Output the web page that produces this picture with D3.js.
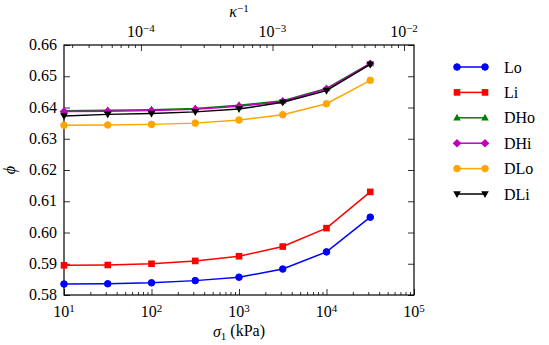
<!DOCTYPE html>
<html>
<head>
<meta charset="utf-8">
<script src="https://cdn.jsdelivr.net/npm/d3@7"></script>
</head>
<body style="margin:0">
<div id="chart"></div>
<script>
window.onerror = function(msg) {
  var p = document.createElement('pre'); p.style.color = 'red'; p.textContent = msg; document.body.appendChild(p)
}

// sigma_1 (kPa) sample points
var sigma = [10, 31.62, 100, 316.2, 1000, 3162, 10000, 31623]

var Lo  = [0.5835, 0.5836, 0.5839, 0.5846, 0.5857, 0.5883, 0.5938, 0.6049]
var Li  = [0.5895, 0.5896, 0.5900, 0.5909, 0.5924, 0.5955, 0.6014, 0.6130]
var DHo = [0.6390, 0.6391, 0.6393, 0.6397, 0.6407, 0.6422, 0.6461, 0.6541]
var DHi = [0.6387, 0.6388, 0.6390, 0.6394, 0.6404, 0.6419, 0.6459, 0.6540]
var DLo = [0.6343, 0.6344, 0.6346, 0.6350, 0.6360, 0.6377, 0.6412, 0.6487]
var DLi = [0.6373, 0.6378, 0.6381, 0.6386, 0.6395, 0.6417, 0.6454, 0.6538]

var names   = ['Lo', 'Li', 'DHo', 'DHi', 'DLo', 'DLi']
var colors  = ['#0000ff', '#ff0000', '#008000', '#bf00bf', '#ffa500', '#000000']
var symbols = ['circle', 'square', 'triUp', 'diamond', 'circle', 'triDown']

var xTicks = [1e1, 1e2, 1e3, 1e4, 1e5]
var xExp = ['1', '2', '3', '4', '5']
var kTicks = [1e-4, 1e-3, 1e-2]
var kExp = ['\u22124', '\u22123', '\u22122']
var kDomain = [Math.pow(10, -4.585), Math.pow(10, -1.924)]
var yTicks = [0.58, 0.59, 0.60, 0.61, 0.62, 0.63, 0.64, 0.65, 0.66]

var series = names.map((n, i) => ({name: n, color: colors[i], sym: symbols[i],
  values: [Lo, Li, DHo, DHi, DLo, DLi][i].map((v, j) => ({s: sigma[j], v: v}))}))

var W = 549, H = 345
var m = {left: 64, right: 135, top: 45, bottom: 50}
var fs = '16px'

var svg = d3.select('#chart').append('svg').attr('width', W).attr('height', H)

var x = d3.scaleLog().domain([10, 1e5]).range([m.left, W - m.right])
var xk = d3.scaleLog().domain(kDomain).range([m.left, W - m.right])
var y = d3.scaleLinear().domain([0.58, 0.66]).range([H - m.bottom, m.top])

function minorOf(dom) {
  var out = []
  for (var e = -6; e <= 6; e++) for (var k = 2; k <= 9; k++) {
    var v = k * Math.pow(10, e)
    if (v > dom[0] && v < dom[1]) out.push(v)
  }
  return out
}

// plain text maker: serif face set inline at creation
function txt(parent) {
  return parent.append('text').style('font-family', '"Liberation Serif"').style('font-size', fs).attr('fill', '#000')
}
function pow10(t, e) {
  t.append('tspan').text('10')
  t.append('tspan').attr('dy', '-0.45em').style('font-size', '11px').text(e)
}

// ticks only; labels drawn by txt()
function ticks(axis, tx, ty) {
  svg.append('g').attr('transform', `translate(${tx},${ty})`).call(axis)
}
ticks(d3.axisBottom(x).tickValues(xTicks).tickFormat('').tickSizeInner(-6).tickSizeOuter(0), 0, H - m.bottom)
ticks(d3.axisBottom(x).tickValues(minorOf([10, 1e5])).tickFormat('').tickSizeInner(-3).tickSizeOuter(0), 0, H - m.bottom)
ticks(d3.axisTop(xk).tickValues(kTicks).tickFormat('').tickSizeInner(-6).tickSizeOuter(0), 0, m.top)
ticks(d3.axisTop(xk).tickValues(minorOf(kDomain)).tickFormat('').tickSizeInner(-3).tickSizeOuter(0), 0, m.top)
ticks(d3.axisLeft(y).tickValues(yTicks).tickFormat('').tickSizeInner(-6).tickSizeOuter(0), m.left, 0)
ticks(d3.axisRight(y).tickValues(yTicks).tickFormat('').tickSizeInner(-6).tickSizeOuter(0), W - m.right, 0)

svg.selectAll('.domain').remove()
svg.selectAll('.tick text').remove()
svg.selectAll('.tick line').attr('stroke', '#000').attr('stroke-width', 0.8)

xTicks.forEach((v, i) => txt(svg).attr('x', x(v)).attr('y', H - m.bottom + 22).attr('text-anchor', 'middle').call(pow10, xExp[i]))
kTicks.forEach((v, i) => txt(svg).attr('x', xk(v)).attr('y', m.top - 8).attr('text-anchor', 'middle').call(pow10, kExp[i]))
yTicks.forEach(v => txt(svg).attr('x', m.left - 7).attr('y', y(v)).attr('dy', '0.32em').attr('text-anchor', 'end').text(d3.format('.2f')(v)))

svg.append('rect')
  .attr('x', m.left).attr('y', m.top)
  .attr('width', W - m.left - m.right).attr('height', H - m.top - m.bottom)
  .attr('fill', 'none').attr('stroke', '#000').attr('stroke-width', 1.2)

// axis titles
txt(svg).attr('x', x(Math.sqrt(10 * 1e5))).attr('y', 337).attr('text-anchor', 'middle')
  .call(t => {
    t.append('tspan').style('font-style', 'italic').text('σ')
    t.append('tspan').attr('dy', '0.3em').style('font-size', '11px').text('1')
    t.append('tspan').attr('dy', '-0.3em').text('\u00a0(kPa)')
  })

txt(svg).attr('x', x(Math.sqrt(10 * 1e5))).attr('y', 17).attr('text-anchor', 'middle')
  .call(t => {
    t.append('tspan').style('font-style', 'italic').text('κ')
    t.append('tspan').attr('dy', '-0.45em').style('font-size', '11px').text('\u22121')
  })

txt(svg).attr('transform', `translate(15,${(m.top + H - m.bottom) / 2}) rotate(-90)`)
  .attr('text-anchor', 'middle').style('font-style', 'italic').text('ϕ')

// markers
function marker(sel, sym, color) {
  if (sym === 'circle') sel.append('circle').attr('r', 3.3).attr('fill', color).attr('stroke', color)
  else if (sym === 'square') sel.append('rect').attr('x', -3.3).attr('y', -3.3).attr('width', 6.6).attr('height', 6.6).attr('fill', color)
  else {
    var p = {triUp: 'M0,-4L3.8,2.8L-3.8,2.8Z', triDown: 'M0,4L3.8,-2.8L-3.8,-2.8Z', diamond: 'M0,-4.3L4.3,0L0,4.3L-4.3,0Z'}[sym]
    sel.append('path').attr('d', p).attr('fill', color)
  }
}

var line = d3.line().x(d => x(d.s)).y(d => y(d.v))

series.forEach(s => {
  svg.append('path').datum(s.values).attr('d', line)
    .attr('fill', 'none').attr('stroke', s.color).attr('stroke-width', 1.5)
  svg.selectAll(null).data(s.values).enter().append('g')
    .attr('transform', d => `translate(${x(d.s)},${y(d.v)})`)
    .each(function() { marker(d3.select(this), s.sym, s.color) })
})

// legend
var lg = svg.append('g').attr('transform', 'translate(457,67)')
series.forEach((s, i) => {
  var row = lg.append('g').attr('transform', `translate(0,${i * 25.4})`)
  row.append('line').attr('x1', 0).attr('x2', 28).attr('stroke', s.color).attr('stroke-width', 1.5)
  marker(row.append('g'), s.sym, s.color)
  marker(row.append('g').attr('transform', 'translate(28,0)'), s.sym, s.color)
  txt(row).attr('x', 47).attr('dy', '0.35em').text(s.name)
})
</script>
</body>
</html>
